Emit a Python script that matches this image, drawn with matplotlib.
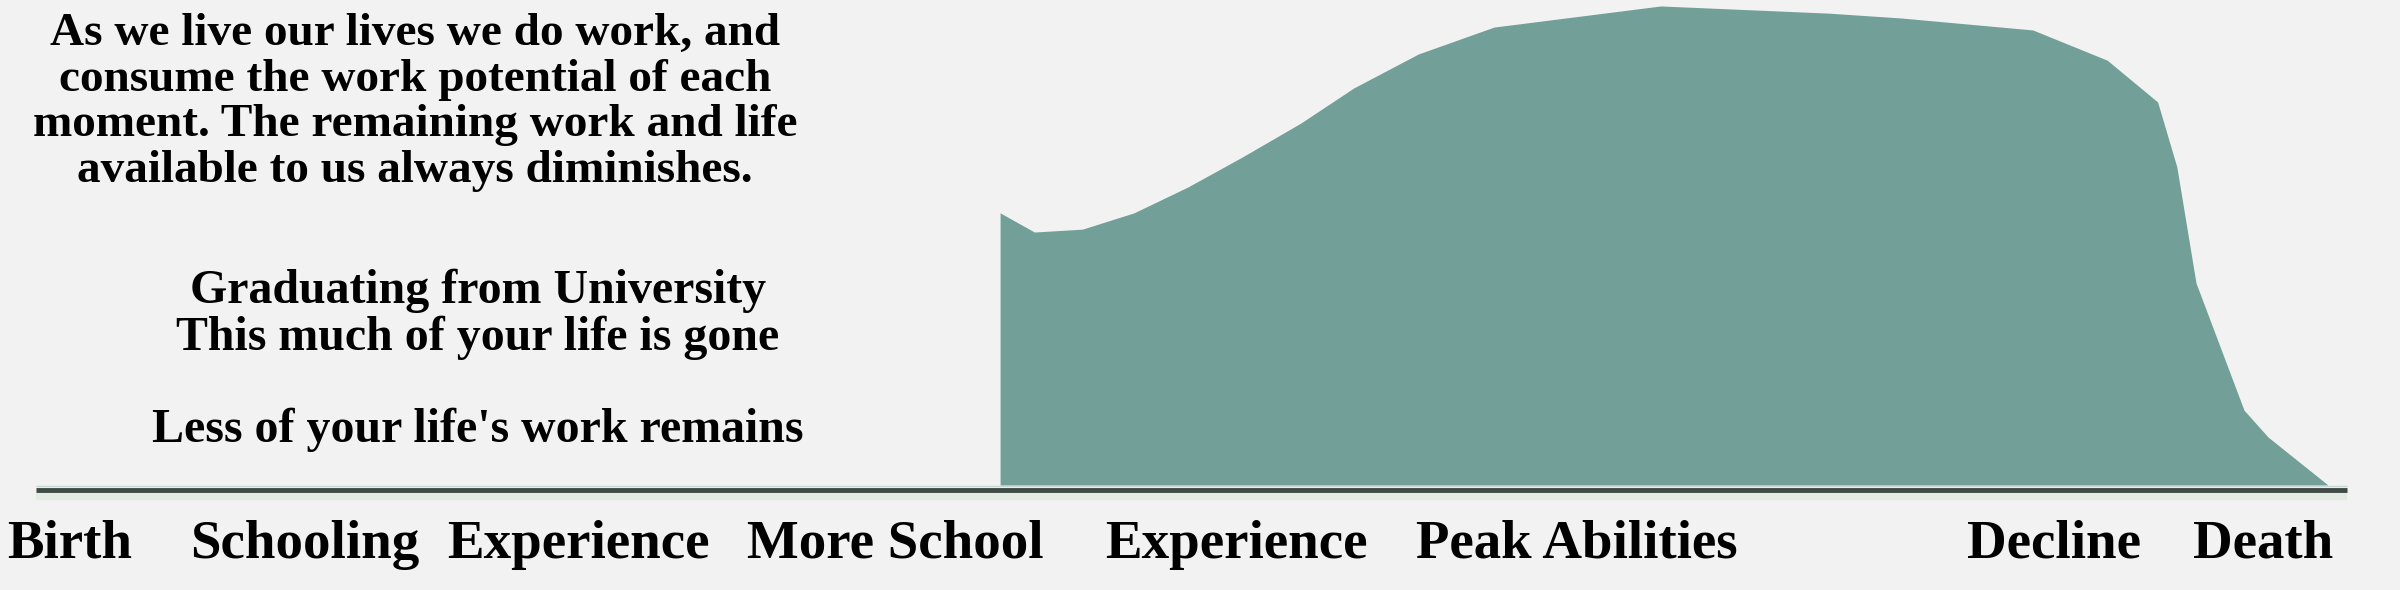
import matplotlib
matplotlib.use("Agg")
import matplotlib.pyplot as plt

plt.rcParams["font.family"] = ["Liberation Serif", "DejaVu Serif"]

# life position (% of lifespan) and remaining work potential (%)
life = [41.67, 41.67, 43.1, 45.1, 47.25, 49.5, 51.75, 54.2, 56.4, 59.1, 62.25,
        69.2, 76.2, 79.2, 84.7, 87.8, 89.9, 90.7, 91.5, 93.5, 94.5, 97.0]
work = [0.0, 56.7, 52.7, 53.3, 56.7, 62.1, 68.3, 75.4, 82.7, 89.8, 95.4,
        99.8, 98.3, 97.3, 94.8, 88.5, 79.8, 66.3, 42.1, 15.6, 10.0, 0.0]

stages = ["Birth", "Schooling", "Experience", "More School", "Experience",
          "Peak Abilities", "Decline", "Death"]
stage_pos = [2.9, 12.7, 24.1, 37.3, 51.5, 65.7, 85.6, 94.3]

title = ("As we live our lives we do work, and\n"
         "consume the work potential of each\n"
         "moment. The remaining work and life\n"
         "available to us always diminishes.")
note = ("Graduating from University\n"
        "This much of your life is gone\n\n"
        "Less of your life's work remains")

bg = "#f2f2f2"
fig = plt.figure(figsize=(24, 5.9), dpi=100, facecolor=bg)
ax = fig.add_axes([0, 0, 1, 1])
ax.set_facecolor(bg)
ax.set_xlim(0, 100)
ax.set_ylim(-21.875, 101.04)
ax.axis("off")

ax.fill_between(life, 0, work, color="#72a099", linewidth=0)

# baseline with soft glow
ax.plot([1.5, 97.8], [-2.3, -2.3], color="#e3ebe2", linewidth=6, solid_capstyle="butt")
ax.plot([1.5, 97.8], [-1.0, -1.0], color="#3f4a45", linewidth=3.5, solid_capstyle="butt")
ax.plot([1.5, 97.8], [-0.3, -0.3], color="#c9d6d2", linewidth=1.0, solid_capstyle="butt")

ax.text(17.3, 79.7, title, ha="center", va="center", fontsize=34,
        fontweight="bold", linespacing=1.12)
ax.text(19.9, 25.9, note, ha="center", va="center", fontsize=34.5,
        fontweight="bold", linespacing=1.06)

for name, x in zip(stages, stage_pos):
    ax.text(x, -12.5, name, ha="center", va="center", fontsize=39.5, fontweight="bold")

fig.savefig("out.png", dpi=100, facecolor=bg)
